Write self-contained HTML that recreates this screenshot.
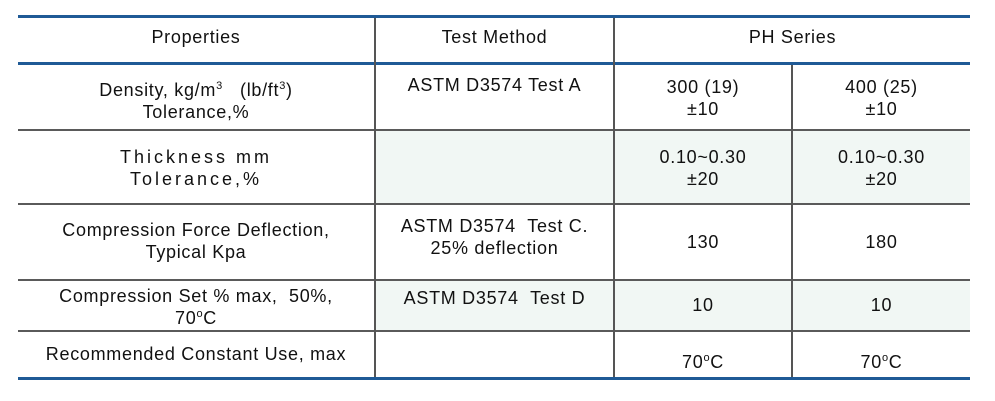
<!DOCTYPE html>
<html><head><style>
body{margin:0;width:995px;height:401px;background:#fff;position:relative;font-family:"Liberation Sans",sans-serif;font-size:18px;letter-spacing:0.7px;color:#111;overflow:hidden}
.h{position:absolute;left:18px;width:952px}
.v{position:absolute;width:2px;background:#555}
.s{position:absolute;background:#f1f7f4}
.t{position:absolute;text-align:center;line-height:22px;white-space:nowrap}
sup{font-size:11px;vertical-align:7px;line-height:0}
</style></head><body>
<div class="s" style="left:376px;top:131px;width:594px;height:73px"></div>
<div class="s" style="left:376px;top:281px;width:594px;height:50px"></div>
<div class="h" style="top:15px;height:3px;background:#1f5a96"></div>
<div class="h" style="top:62px;height:3px;background:#1f5a96"></div>
<div class="h" style="top:129px;height:2px;background:#5a5a5a"></div>
<div class="h" style="top:203px;height:2px;background:#5a5a5a"></div>
<div class="h" style="top:279px;height:2px;background:#5a5a5a"></div>
<div class="h" style="top:330px;height:2px;background:#5a5a5a"></div>
<div class="h" style="top:377px;height:3px;background:#1f5a96"></div>
<div class="v" style="left:374px;top:18px;height:359px"></div>
<div class="v" style="left:613px;top:18px;height:359px"></div>
<div class="v" style="left:791px;top:65px;height:312px"></div>

<div class="t" style="left:18px;width:356px;top:26px">Properties</div>
<div class="t" style="left:376px;width:237px;top:26px">Test Method</div>
<div class="t" style="left:615px;width:355px;top:26px">PH Series</div>

<div class="t" style="left:18px;width:356px;top:79px">Density, kg/m<sup>3</sup> &nbsp;&nbsp;(lb/ft<sup>3</sup>)<br>Tolerance,%</div>
<div class="t" style="left:376px;width:237px;top:74px">ASTM D3574 Test A</div>
<div class="t" style="left:615px;width:176px;top:76px">300 (19)<br>±10</div>
<div class="t" style="left:793px;width:177px;top:76px">400 (25)<br>±10</div>

<div class="t" style="left:18px;width:356px;top:146px;letter-spacing:3px">Thickness mm<br>Tolerance,%</div>
<div class="t" style="left:615px;width:176px;top:146px">0.10~0.30<br>±20</div>
<div class="t" style="left:793px;width:177px;top:146px">0.10~0.30<br>±20</div>

<div class="t" style="left:18px;width:356px;top:219px">Compression Force Deflection,<br>Typical Kpa</div>
<div class="t" style="left:376px;width:237px;top:215px">ASTM D3574 &nbsp;Test C.<br>25% deflection</div>
<div class="t" style="left:615px;width:176px;top:231px">130</div>
<div class="t" style="left:793px;width:177px;top:231px">180</div>

<div class="t" style="left:18px;width:356px;top:285px">Compression Set % max, &nbsp;50%,<br>70<sup>o</sup>C</div>
<div class="t" style="left:376px;width:237px;top:287px">ASTM D3574 &nbsp;Test D</div>
<div class="t" style="left:615px;width:176px;top:294px">10</div>
<div class="t" style="left:793px;width:177px;top:294px">10</div>

<div class="t" style="left:18px;width:356px;top:343px">Recommended Constant Use, max</div>
<div class="t" style="left:615px;width:176px;top:351px">70<sup>o</sup>C</div>
<div class="t" style="left:793px;width:177px;top:351px">70<sup>o</sup>C</div>
</body></html>
